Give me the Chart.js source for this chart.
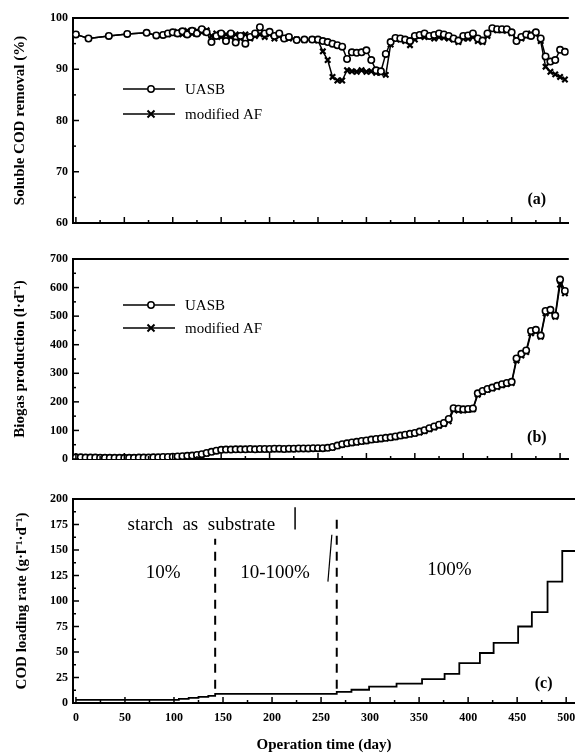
<!DOCTYPE html>
<html>
<head>
<meta charset="utf-8">
<script src="https://cdn.jsdelivr.net/npm/chart.js@4.4.1/dist/chart.umd.min.js"></script>
<style>
  html, body { margin: 0; padding: 0; background: #fff; }
  #wrap { position: relative; width: 575px; height: 756px; overflow: hidden; }
  canvas { position: absolute; left: 0; }
</style>
</head>
<body>
<div id="wrap">
  <canvas id="removalChart" width="575" height="240" style="top:0px"></canvas>
  <canvas id="biogasChart" width="575" height="230" style="top:240px"></canvas>
  <canvas id="loadingChart" width="575" height="286" style="top:470px"></canvas>
</div>
<script>
// x axis (operation time, day)
const xTicks = [0, 50, 100, 150, 200, 250, 300, 350, 400, 450, 500];

// (a) soluble COD removal (%)
const daysA = [0, 13, 34, 53, 73, 83,
  90, 95, 100, 105, 110, 115, 120, 125, 130, 135, 140, 145, 150, 155, 160, 165, 170, 175, 180,
  185, 190, 195, 200, 205, 210, 215, 220, 228, 236, 244,
  250, 255, 260, 265, 270, 275, 280, 285, 290, 295, 300, 305, 310, 315, 320, 325, 330, 335, 340,
  345, 350, 355, 360, 365, 370, 375, 380, 385, 390, 395, 400, 405, 410, 415, 420, 425, 430, 435,
  440, 445, 450, 455, 460, 465, 470, 475, 480, 485, 490, 495, 500, 505];
const uasbRemoval = [96.8, 96.0, 96.5, 96.9, 97.1, 96.6,
  96.7, 97.0, 97.2, 97.0, 97.4, 96.8, 97.5, 97.0, 97.8, 97.2, 95.3, 96.5, 97.0, 95.5, 97.0, 95.2, 96.5, 95.0, 96.3,
  97.0, 98.2, 97.0, 97.3, 96.5, 97.0, 96.0, 96.3, 95.7, 95.8, 95.8,
  95.8, 95.5, 95.3, 95.0, 94.7, 94.4, 92.0, 93.3, 93.2, 93.3, 93.7, 91.8, 89.8, 89.6, 93.0, 95.3, 96.1, 96.0, 95.8,
  95.5, 96.5, 96.7, 97.0, 96.5, 96.7, 97.0, 96.8, 96.5, 96.0, 95.6, 96.5, 96.6, 97.0, 96.0, 95.6, 97.0, 98.0, 97.8,
  97.8, 97.8, 97.2, 95.5, 96.3, 96.8, 96.5, 97.2, 96.0, 92.5, 91.5, 91.8, 93.8, 93.4];
const afRemoval = [96.8, 96.0, 96.5, 96.9, 97.1, 96.6,
  96.7, 96.8, 97.0, 97.3, 96.8, 97.5, 96.9, 97.5, 97.2, 97.6, 96.5, 97.0, 96.3, 96.8, 96.3, 96.8, 96.0, 96.8, 96.0,
  96.5, 96.8, 96.3, 96.8, 96.0, 96.5, 96.2, 96.0, 95.8, 95.7, 95.8,
  95.6, 93.5, 91.8, 88.5, 87.8, 87.8, 89.8, 89.6, 89.5, 89.8, 89.5, 89.6, 89.3, 89.3, 88.9, 94.8, 96.0, 95.8, 95.5,
  94.7, 95.8, 96.5, 96.3, 96.5, 96.0, 96.3, 96.2, 96.0, 95.8, 95.3, 96.0, 96.0, 96.3, 95.5, 95.3, 96.5, 97.8, 97.6,
  97.6, 97.5, 97.0, 95.8, 96.0, 96.5, 97.0, 96.8, 95.5, 90.5, 89.5, 89.0, 88.5, 88.0];
const removalTicks = [60, 70, 80, 90, 100];

// (b) biogas production (l/d)
const daysB = [0, 5, 10, 15, 20, 25, 30, 35, 40, 45, 50, 55, 60, 65, 70, 75, 80, 85, 90, 95, 100,
  105, 110, 115, 120, 125, 130, 135, 140, 145, 150, 155, 160, 165, 170, 175, 180, 185, 190, 195, 200,
  205, 210, 215, 220, 225, 230, 235, 240, 245, 250, 255, 260, 265, 270, 275, 280, 285, 290, 295, 300,
  305, 310, 315, 320, 325, 330, 335, 340, 345, 350, 355, 360, 365, 370, 375, 380, 385, 390, 395, 400,
  405, 410, 415, 420, 425, 430, 435, 440, 445, 450, 455, 460, 465, 470, 475, 480, 485, 490, 495, 500, 505];
const uasbBiogas = [6, 6, 5, 5, 5, 4, 4, 4, 4, 4, 4, 4, 4,
  5, 5, 5, 6, 6, 7, 7, 8, 9, 10, 11, 12, 14,
  17, 21, 25, 29,
  32, 33, 33, 34, 34, 34, 35, 34, 35, 35, 35, 36, 36, 35, 36, 36, 37, 37, 37, 38, 38, 38, 39,
  42, 47, 52, 55, 58, 60, 63, 65, 68, 70, 72, 74, 76, 79, 82, 85, 88, 91,
  96, 101, 108, 114, 120, 126, 140,
  178, 176, 174, 175, 177,
  230, 238, 245, 250, 256, 262, 266, 270,
  352, 368, 380,
  448, 452, 432,
  518, 522, 502,
  628, 588];
const afBiogas = [5, 5, 5, 4, 4, 4, 4, 4, 3, 3, 3, 4, 4,
  4, 5, 5, 5, 6, 6, 7, 7, 8, 9, 10, 11, 13,
  15, 19, 24, 28,
  31, 32, 32, 33, 33, 33, 34, 33, 34, 34, 34, 35, 35, 34, 35, 35, 36, 36, 36, 37, 37, 37, 38,
  40, 45, 50, 53, 56, 58, 61, 63, 66, 68, 70, 72, 74, 77, 80, 83, 86, 89,
  93, 98, 104, 110, 116, 122, 132,
  172, 170, 170, 172, 174,
  225, 234, 242, 247, 252, 258, 262, 266,
  345, 362, 374,
  440, 446, 428,
  510, 516, 498,
  610, 580];
const biogasTicks = [0, 100, 200, 300, 400, 500, 600, 700];

// (c) COD loading rate (g/l/d), stepped
const daysC = [0, 90, 105, 115, 125, 135, 142, 266, 281, 299, 327, 353, 376, 391, 412, 426, 451, 465, 481, 496, 512];
const loadingRate = [3, 3, 4, 5, 6, 7, 9, 11, 13, 16, 19, 23.5, 28.5, 39, 49, 59, 75, 89, 119, 149, 149];
const loadingTicks = [0, 25, 50, 75, 100, 125, 150, 175, 200];
const phaseDays = [142, 266];

const serif = '"Liberation Serif", "Times New Roman", serif';
const tickFont = { family: serif, size: 12, weight: 'bold' };
const titleFont = { family: serif, size: 15, weight: 'bold' };

// inward ticks, top frame line, legend and notes
const decor = {
  id: 'decor',
  afterDatasetsDraw(chart, args, o) {
    const ctx = chart.ctx;
    const xs = chart.scales.x, ys = chart.scales.y;
    const { left, right, top, bottom } = chart.chartArea;
    ctx.save();
    ctx.strokeStyle = '#000';
    ctx.fillStyle = '#000';
    ctx.lineWidth = 2;
    ctx.beginPath(); ctx.moveTo(left, top); ctx.lineTo(right, top); ctx.stroke();

    ctx.lineWidth = 1.5;
    const xt = xs.ticks.map(t => t.value);
    xt.forEach((v, i) => {
      const nxt = i < xt.length - 1 ? xt[i + 1] : v + (v - xt[i - 1]);
      [[v, 6], [(v + nxt) / 2, 3]].forEach(([val, len]) => {
        if (val > xs.max) return;
        const px = xs.getPixelForValue(val);
        ctx.beginPath(); ctx.moveTo(px, bottom); ctx.lineTo(px, bottom - len); ctx.stroke();
      });
    });
    const yt = ys.ticks.map(t => t.value);
    yt.forEach((v, i) => {
      const py = ys.getPixelForValue(v);
      ctx.beginPath(); ctx.moveTo(left, py); ctx.lineTo(left + 6, py); ctx.stroke();
      if (i < yt.length - 1) {
        const pm = ys.getPixelForValue((v + yt[i + 1]) / 2);
        ctx.beginPath(); ctx.moveTo(left, pm); ctx.lineTo(left + 3, pm); ctx.stroke();
      }
    });

    (o.lines || []).forEach(l => {
      ctx.lineWidth = l.width;
      ctx.setLineDash(l.dash || []);
      ctx.beginPath();
      ctx.moveTo(xs.getPixelForValue(l.x1), ys.getPixelForValue(l.y1));
      ctx.lineTo(xs.getPixelForValue(l.x2), ys.getPixelForValue(l.y2));
      ctx.stroke();
    });
    ctx.setLineDash([]);

    ctx.textAlign = 'center';
    ctx.textBaseline = 'middle';
    (o.texts || []).forEach(t => {
      ctx.font = t.font;
      ctx.fillText(t.text, xs.getPixelForValue(t.x), ys.getPixelForValue(t.y));
    });

    ctx.textAlign = 'left';
    ctx.font = '15px ' + serif;
    (o.legend || []).forEach(r => {
      ctx.lineWidth = 1.5;
      ctx.beginPath(); ctx.moveTo(123, r.y); ctx.lineTo(175, r.y); ctx.stroke();
      ctx.beginPath();
      if (r.marker === 'circle') {
        ctx.arc(151, r.y, 3.2, 0, Math.PI * 2);
        ctx.fillStyle = '#fff'; ctx.fill(); ctx.stroke();
      } else {
        ctx.moveTo(147.5, r.y - 3.5); ctx.lineTo(154.5, r.y + 3.5);
        ctx.moveTo(154.5, r.y - 3.5); ctx.lineTo(147.5, r.y + 3.5);
        ctx.lineWidth = 2; ctx.stroke();
      }
      ctx.fillStyle = '#000';
      ctx.fillText(r.text, 185, r.y + 1);
    });
    ctx.restore();
  }
};

function xAxis(height, showLabels, title) {
  return {
    type: 'linear', min: -3, max: 509,
    grid: { display: false, drawTicks: false },
    border: { color: '#000', width: 2 },
    ticks: { display: showLabels, padding: 8, color: '#000', font: tickFont, autoSkip: false, maxRotation: 0 },
    afterBuildTicks: s => { s.ticks = xTicks.map(v => ({ value: v })); },
    afterFit: s => { s.height = height; s.paddingLeft = 0; s.paddingRight = 0; },
    title: { display: !!title, text: title, color: '#000', font: titleFont, padding: { top: 0, bottom: 2 } }
  };
}

function yAxis(min, max, ticks, title, pad) {
  return {
    min: min, max: max,
    grid: { display: false, drawTicks: false },
    border: { color: '#000', width: 2 },
    ticks: { padding: 5, color: '#000', font: tickFont, autoSkip: false },
    afterBuildTicks: s => { s.ticks = ticks.map(v => ({ value: v })); },
    afterFit: s => { s.width = 73; s.paddingTop = 0; s.paddingBottom = 0; },
    title: { display: true, text: title, color: '#000', font: titleFont, padding: { top: pad, bottom: 0 } }
  };
}

function pts(xs, ys) {
  return xs.map((x, i) => ({ x: x, y: ys[i] }));
}

const uasbStyle = {
  borderColor: '#000', borderWidth: 1.5, pointStyle: 'circle', pointRadius: 3.2,
  pointBackgroundColor: '#fff', pointBorderColor: '#000', pointBorderWidth: 1.6
};
const afStyle = {
  borderColor: '#000', borderWidth: 1.5, pointStyle: 'crossRot', pointRadius: 3.8,
  pointBorderColor: '#000', pointBorderWidth: 2.2
};

const removalChart = new Chart(document.getElementById('removalChart'), {
  type: 'line',
  data: {
    datasets: [
      Object.assign({ label: 'UASB', data: pts(daysA, uasbRemoval) }, uasbStyle),
      Object.assign({ label: 'modified AF', data: pts(daysA, afRemoval) }, afStyle)
    ]
  },
  options: {
    responsive: false, animation: false,
    layout: { padding: { top: 18, left: 0, right: 0, bottom: 0 } },
    scales: { x: xAxis(17, false), y: yAxis(60, 100, removalTicks, 'Soluble COD removal (%)', 11) },
    plugins: {
      legend: { display: false }, tooltip: { enabled: false },
      decor: {
        legend: [{ y: 89, text: 'UASB', marker: 'circle' }, { y: 114, text: 'modified AF', marker: 'cross' }],
        texts: [{ x: 476, y: 64.5, text: '(a)', font: 'bold 16px ' + serif }]
      }
    }
  },
  plugins: [decor]
});

const biogasChart = new Chart(document.getElementById('biogasChart'), {
  type: 'line',
  data: {
    datasets: [
      Object.assign({ label: 'UASB', data: pts(daysB, uasbBiogas) }, uasbStyle),
      Object.assign({ label: 'modified AF', data: pts(daysB, afBiogas) }, afStyle)
    ]
  },
  options: {
    responsive: false, animation: false,
    layout: { padding: { top: 19, left: 0, right: 0, bottom: 0 } },
    scales: { x: xAxis(11, false), y: yAxis(0, 700, biogasTicks, 'Biogas production (l·d⁻¹)', 11) },
    plugins: {
      legend: { display: false }, tooltip: { enabled: false },
      decor: {
        legend: [{ y: 65, text: 'UASB', marker: 'circle' }, { y: 88, text: 'modified AF', marker: 'cross' }],
        texts: [{ x: 476, y: 73, text: '(b)', font: 'bold 16px ' + serif }]
      }
    }
  },
  plugins: [decor]
});

const loadingChart = new Chart(document.getElementById('loadingChart'), {
  type: 'line',
  data: {
    datasets: [{
      label: 'COD loading rate',
      data: pts(daysC, loadingRate),
      stepped: true,
      borderColor: '#000', borderWidth: 1.8, pointRadius: 0
    }]
  },
  options: {
    responsive: false, animation: false,
    layout: { padding: { top: 29, left: 0, right: 0, bottom: 0 } },
    scales: {
      x: xAxis(53, true, 'Operation time (day)'),
      y: yAxis(0, 200, loadingTicks, 'COD loading rate (g·l⁻¹·d⁻¹)', 13)
    },
    plugins: {
      legend: { display: false }, tooltip: { enabled: false },
      decor: {
        lines: [
          { x1: phaseDays[0], y1: 14, x2: phaseDays[0], y2: 161, width: 2, dash: [9, 7] },
          { x1: phaseDays[1], y1: 14, x2: phaseDays[1], y2: 180, width: 2, dash: [9, 7] },
          { x1: 261, y1: 165, x2: 257, y2: 119, width: 1.2 },
          { x1: 223.5, y1: 170, x2: 223.5, y2: 192, width: 1.5 }
        ],
        texts: [
          { x: 128, y: 174.5, text: 'starch  as  substrate', font: '19px ' + serif },
          { x: 89, y: 127.5, text: '10%', font: '19px ' + serif },
          { x: 203, y: 127.5, text: '10-100%', font: '19px ' + serif },
          { x: 381, y: 130.5, text: '100%', font: '19px ' + serif },
          { x: 477, y: 18.6, text: '(c)', font: 'bold 16px ' + serif }
        ]
      }
    }
  },
  plugins: [decor]
});
</script>
</body>
</html>
